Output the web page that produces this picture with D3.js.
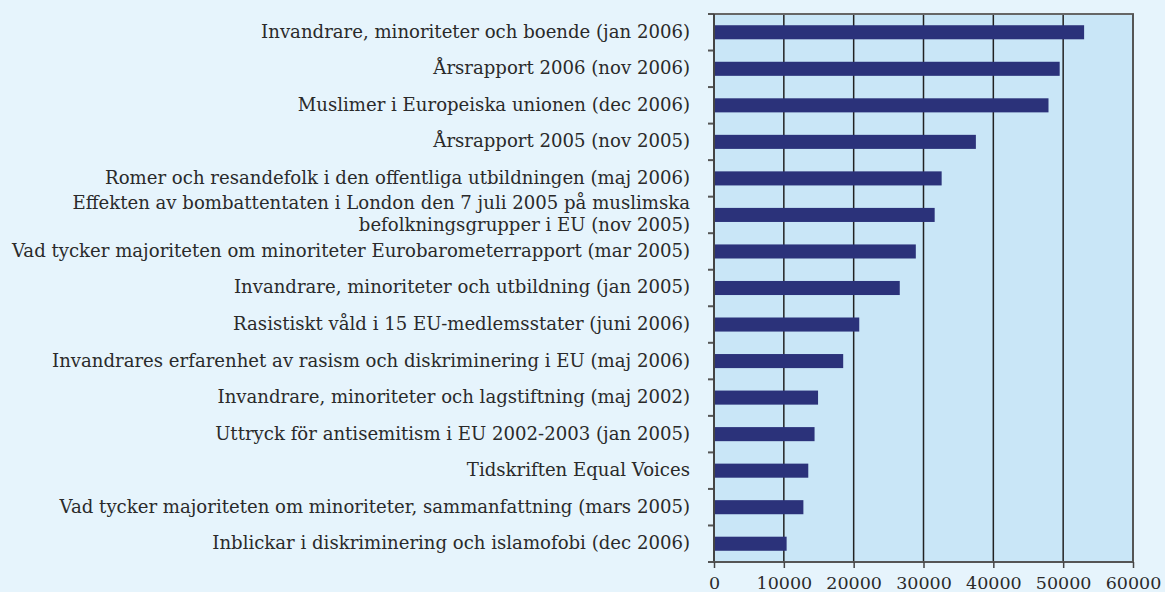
<!DOCTYPE html>
<html>
<head>
<meta charset="utf-8">
<script src="https://cdn.jsdelivr.net/npm/d3@7.9.0/dist/d3.min.js"></script>
<style>
  html, body { margin: 0; padding: 0; background: #e6f4fc; }
  svg { display: block; }
  text { font-family: "DejaVu Serif", serif; fill: #2a2a2a; }
</style>
</head>
<body>
<svg id="chart" width="1165" height="592"></svg>
<script>
// publications and number of copies
const categories = [
  ['Invandrare, minoriteter och boende (jan 2006)'],
  ['Årsrapport 2006 (nov 2006)'],
  ['Muslimer i Europeiska unionen (dec 2006)'],
  ['Årsrapport 2005 (nov 2005)'],
  ['Romer och resandefolk i den offentliga utbildningen (maj 2006)'],
  ['Effekten av bombattentaten i London den 7 juli 2005 på muslimska', 'befolkningsgrupper i EU (nov 2005)'],
  ['Vad tycker majoriteten om minoriteter Eurobarometerrapport (mar 2005)'],
  ['Invandrare, minoriteter och utbildning (jan 2005)'],
  ['Rasistiskt våld i 15 EU-medlemsstater (juni 2006)'],
  ['Invandrares erfarenhet av rasism och diskriminering i EU (maj 2006)'],
  ['Invandrare, minoriteter och lagstiftning (maj 2002)'],
  ['Uttryck för antisemitism i EU 2002-2003 (jan 2005)'],
  ['Tidskriften Equal Voices'],
  ['Vad tycker majoriteten om minoriteter, sammanfattning (mars 2005)'],
  ['Inblickar i diskriminering och islamofobi (dec 2006)']
];
const values = [53000, 49500, 47900, 37500, 32600, 31600, 28900, 26600, 20800, 18500, 14900, 14400, 13500, 12800, 10400];
const xTicks = [0, 10000, 20000, 30000, 40000, 50000, 60000];

const svg = d3.select('#chart');
const margin = { top: 14, right: 32, bottom: 30, left: 714 };
const width = 1165 - margin.left - margin.right;
const height = 592 - margin.top - margin.bottom;

const g = svg.append('g').attr('transform', `translate(${margin.left},${margin.top})`);

const keys = categories.map((c, i) => i);

const x = d3.scaleLinear().domain([0, 60000]).range([0, width]);
const y = d3.scaleBand().domain(keys).range([0, height])
  .paddingInner(0.615).paddingOuter(0.3075);

// plot background
g.append('rect')
  .attr('width', width).attr('height', height)
  .attr('fill', '#c9e6f7');

// gridlines
g.selectAll('.grid')
  .data(xTicks.slice(1, -1))
  .join('line')
  .attr('x1', d => x(d)).attr('x2', d => x(d))
  .attr('y1', 0).attr('y2', height)
  .attr('stroke', '#222').attr('stroke-width', 1.5);

// bars
g.selectAll('.bar')
  .data(values)
  .join('rect')
  .attr('x', 0)
  .attr('y', (d, i) => y(i))
  .attr('width', d => x(d))
  .attr('height', y.bandwidth())
  .attr('fill', '#2b327a');

// frame top and right
g.append('line').attr('x1', -6).attr('x2', width + 1).attr('y1', 0).attr('y2', 0)
  .attr('stroke', '#666').attr('stroke-width', 2);
g.append('line').attr('x1', width).attr('x2', width).attr('y1', 0).attr('y2', height)
  .attr('stroke', '#555').attr('stroke-width', 2);

// y axis: ticks on band boundaries
const step = y.step();
g.selectAll('.ytick')
  .data(d3.range(categories.length + 1))
  .join('line')
  .attr('x1', -6).attr('x2', 0)
  .attr('y1', i => i * step).attr('y2', i => i * step)
  .attr('stroke', '#555').attr('stroke-width', 2);
g.append('line').attr('x1', 0).attr('x2', 0).attr('y1', 0).attr('y2', height)
  .attr('stroke', '#444').attr('stroke-width', 2);

// category labels
const labels = g.selectAll('.label')
  .data(categories)
  .join('text')
  .attr('text-anchor', 'end')
  .attr('font-size', 18.1)
  .attr('transform', (d, i) => `translate(-24,${y(i) + y.bandwidth() / 2})`);
labels.each(function (lines) {
  const t = d3.select(this);
  const lh = 22;
  lines.forEach((line, j) => {
    t.append('tspan')
      .attr('x', 0)
      .attr('y', (j - (lines.length - 1) / 2) * lh)
      .attr('dy', '0.3em')
      .text(line);
  });
});

// x axis
const xAxis = g.append('g')
  .attr('transform', `translate(0,${height})`)
  .call(d3.axisBottom(x).tickValues(xTicks).tickFormat(d => d).tickSize(6).tickSizeOuter(0));
xAxis.select('.domain').attr('stroke', '#555').attr('stroke-width', 2).attr('d', `M-6,0H${width + 1}`);
xAxis.selectAll('.tick line').attr('stroke', '#444').attr('stroke-width', 1.5);
xAxis.selectAll('.tick text')
  .attr('font-family', '"DejaVu Serif", serif')
  .attr('font-size', 17.5)
  .attr('fill', '#2a2a2a')
  .attr('y', 27)
  .attr('dy', 0);
</script>
</body>
</html>
